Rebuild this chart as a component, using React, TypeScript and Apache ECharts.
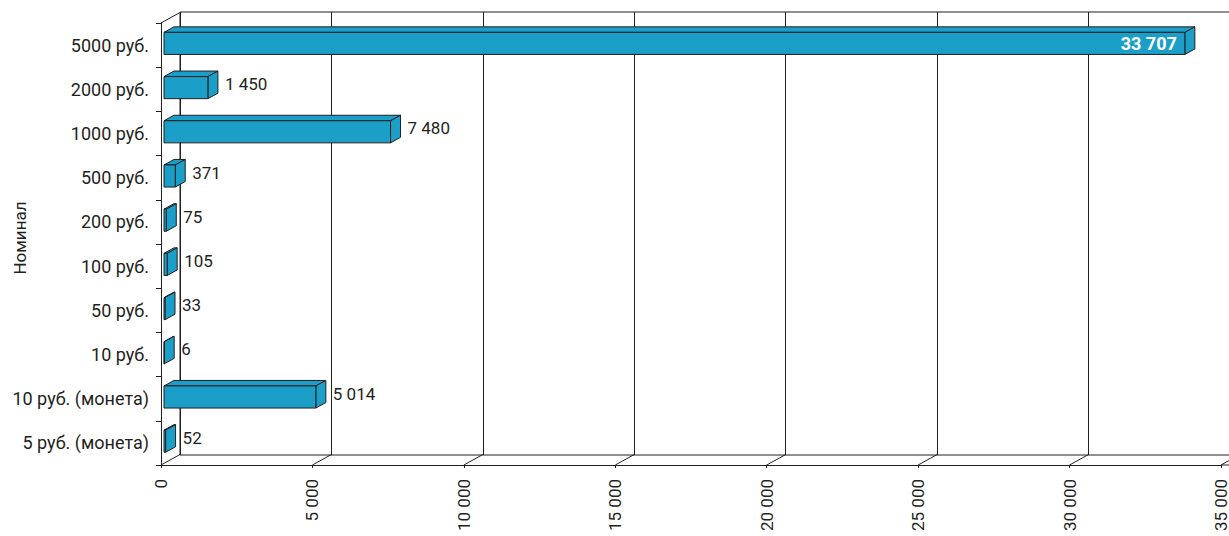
import React, { useEffect, useRef } from "react";
import * as echarts from "echarts";

const categories = [
  "5000 руб.",
  "2000 руб.",
  "1000 руб.",
  "500 руб.",
  "200 руб.",
  "100 руб.",
  "50 руб.",
  "10 руб.",
  "10 руб. (монета)",
  "5 руб. (монета)",
];
const values = [33707, 1450, 7480, 371, 75, 105, 33, 6, 5014, 52];
const xTicks = [0, 5000, 10000, 15000, 20000, 25000, 30000, 35000];
const axisName = "Номинал";
const X_MAX = 35000;
const X_INTERVAL = 5000;

const FONT = "Roboto";
const TEXT = "#231f20";
const LINE = "#231f20";
const BAR = "#1b9fc8";

const fmt = (v: number) =>
  String(Math.round(v)).replace(/\B(?=(\d{3})+(?!\d))/g, " ");

// depth offsets
const WALL_DX = 19;
const WALL_DY = -10.5;
const BAR_DX = 10;
const BAR_DY = -5.5;

export default function App() {
  const ref = useRef<HTMLDivElement>(null);
  useEffect(() => {
    if (!ref.current) return;
    const chart = echarts.init(ref.current, null, { renderer: "svg" });
    const W = 1060;
    const valueAxisBase = (gridIndex: number) => ({
      type: "value" as const,
      gridIndex,
      min: 0,
      max: X_MAX,
      interval: X_INTERVAL,
    });
    chart.setOption({
      animation: false,
      graphic: [
        {
          type: "text",
          x: 20,
          y: 238,
          rotation: Math.PI / 2,
          style: {
            text: axisName,
            fill: TEXT,
            fontFamily: FONT,
            fontSize: 17,
            align: "center",
            verticalAlign: "middle",
          },
        },
      ],
      grid: [
        // back wall
        {
          left: 180,
          top: 12,
          width: W,
          height: 443,
          show: true,
          borderColor: LINE,
          borderWidth: 1,
          backgroundColor: "transparent",
          outerBoundsMode: "none",
          containLabel: false,
        },
        // front plane (axes)
        { left: 161, top: 23, width: W, height: 442, outerBoundsMode: "none", containLabel: false },
        // bar plane
        { left: 164, top: 21.3, width: W, height: 442, outerBoundsMode: "none", containLabel: false },
      ],
      xAxis: [
        {
          ...valueAxisBase(0),
          axisLine: { show: false },
          axisTick: { show: false },
          axisLabel: { show: false },
          splitLine: { show: true, lineStyle: { color: LINE, width: 1 } },
        },
        {
          ...valueAxisBase(1),
          axisLine: { show: true, onZero: false, lineStyle: { color: LINE, width: 1 } },
          axisTick: { show: true, length: 3, lineStyle: { color: LINE } },
          axisLabel: {
            show: true,
            rotate: 90,
            margin: 14,
            color: TEXT,
            fontFamily: FONT,
            fontSize: 17,
            lineHeight: 14,
            formatter: (v: number) => fmt(v),
            showMaxLabel: true,
            showMinLabel: true,
          },
          splitLine: { show: false },
        },
        {
          ...valueAxisBase(2),
          show: false,
          splitLine: { show: false },
        },
      ],
      yAxis: [
        {
          type: "category",
          gridIndex: 0,
          data: categories,
          inverse: true,
          show: false,
        },
        {
          type: "category",
          gridIndex: 1,
          data: categories,
          inverse: true,
          axisLine: { show: true, onZero: false, lineStyle: { color: LINE, width: 1 } },
          axisTick: { show: true, length: 5, inside: false, lineStyle: { color: LINE } },
          axisLabel: {
            color: TEXT,
            fontFamily: FONT,
            fontSize: 18,
            margin: 12,
          },
        },
        {
          type: "category",
          gridIndex: 2,
          data: categories,
          inverse: true,
          show: false,
        },
      ],
      series: [
        {
          type: "custom",
          name: "decor",
          xAxisIndex: 1,
          yAxisIndex: 1,
          silent: true,
          z: 1,
          data: xTicks.map((t) => [t, 0]),
          renderItem: (params: any, api: any) => {
            const cs = params.coordSys;
            const x = api.coord([api.value(0), 0])[0];
            const bottom = cs.y + cs.height;
            const children: any[] = [
              {
                type: "line",
                shape: { x1: x, y1: bottom, x2: x + WALL_DX, y2: bottom + WALL_DY },
                style: { stroke: LINE, lineWidth: 1 },
              },
            ];
            if (params.dataIndex === 0) {
              children.push({
                type: "line",
                shape: { x1: x, y1: cs.y, x2: x + WALL_DX, y2: cs.y + WALL_DY },
                style: { stroke: LINE, lineWidth: 1 },
              });
            }
            if (params.dataIndex === xTicks.length - 1) {
              children.push({
                type: "line",
                shape: { x1: x, y1: bottom, x2: x + 20, y2: bottom },
                style: { stroke: LINE, lineWidth: 1 },
              });
            }
            return { type: "group", children };
          },
        },
        {
          type: "custom",
          name: "bars",
          xAxisIndex: 2,
          yAxisIndex: 2,
          z: 3,
          data: values.map((v, i) => [v, i]),
          renderItem: (params: any, api: any) => {
            const v = api.value(0);
            const i = api.value(1);
            const s = api.coord([0, i]);
            const e = api.coord([v, i]);
            const h = api.size([0, 1])[1] * 0.5;
            const x0 = s[0];
            const x1 = e[0];
            const cy = s[1];
            const top = cy - h / 2;
            const bot = cy + h / 2;
            const st = { stroke: LINE, lineWidth: 1, fill: BAR, lineJoin: "round" };
            const children: any[] = [
              {
                type: "polygon",
                shape: {
                  points: [
                    [x0, top],
                    [x0 + BAR_DX, top + BAR_DY],
                    [x1 + BAR_DX, top + BAR_DY],
                    [x1, top],
                  ],
                },
                style: st,
              },
              {
                type: "polygon",
                shape: {
                  points: [
                    [x1, top],
                    [x1 + BAR_DX, top + BAR_DY],
                    [x1 + BAR_DX, bot + BAR_DY],
                    [x1, bot],
                  ],
                },
                style: st,
              },
              {
                type: "rect",
                shape: { x: x0, y: top, width: Math.max(x1 - x0, 0.5), height: h },
                style: st,
              },
            ];
            const inside = v > X_MAX / 2;
            children.push({
              type: "text",
              x: inside ? x1 - 8 : x1 + BAR_DX + 7,
              y: inside ? cy : cy - 3.5,
              style: {
                text: fmt(v),
                fill: inside ? "#ffffff" : TEXT,
                fontFamily: FONT,
                fontSize: inside ? 18 : 17,
                fontWeight: inside ? "bold" : "normal",
                align: inside ? "right" : "left",
                verticalAlign: "middle",
              },
            });
            return { type: "group", children };
          },
        },
      ],
    });
    return () => chart.dispose();
  }, []);
  return (
    <div
      ref={ref}
      style={{ position: "absolute", left: 0, top: 0, width: 1229, height: 536, background: "#fff" }}
    />
  );
}
